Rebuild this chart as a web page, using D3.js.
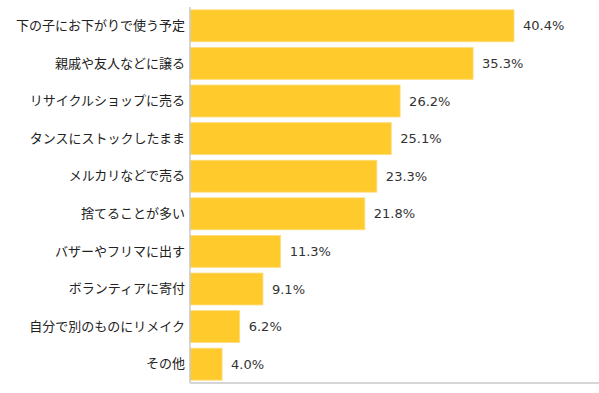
<!DOCTYPE html>
<html>
<head>
<meta charset="utf-8">
<script src="https://cdn.jsdelivr.net/npm/d3@7"></script>
<style>
  body { margin: 0; background: #fff; }
  svg text { font-family: "Noto Sans CJK JP", "Noto Sans", sans-serif; fill: #222; }
  .val { font-family: "DejaVu Sans", sans-serif; fill: #333; }
</style>
</head>
<body>
<svg id="chart" width="599" height="393"></svg>
<script>
const categories = [
  "下の子にお下がりで使う予定",
  "親戚や友人などに譲る",
  "リサイクルショップに売る",
  "タンスにストックしたまま",
  "メルカリなどで売る",
  "捨てることが多い",
  "バザーやフリマに出す",
  "ボランティアに寄付",
  "自分で別のものにリメイク",
  "その他"
]
const values = [40.4, 35.3, 26.2, 25.1, 23.3, 21.8, 11.3, 9.1, 6.2, 4.0]

const svg = d3.select('#chart')
const mLeft = 190, mRight = 591, mTop = 7, mBottom = 383

const x = d3.scaleLinear().domain([0, 50]).range([mLeft, mRight])
const y = d3.scaleBand()
            .domain(categories)
            .range([mTop, mBottom])
            .paddingInner(0.15)
            .paddingOuter(0.075)

// bars
svg.append('g')
    .selectAll('rect')
    .data(values)
    .enter().append('rect')
    .attr('x', x(0))
    .attr('y', (d, i) => y(categories[i]))
    .attr('width', d => x(d) - x(0))
    .attr('height', y.bandwidth())
    .attr('fill', '#FFCA2C')
    .attr('stroke', '#FFDD80')
    .attr('stroke-width', 0.8)

// value labels
svg.append('g')
    .selectAll('text')
    .data(values)
    .enter().append('text')
    .attr('class', 'val')
    .attr('x', d => x(d) + 9)
    .attr('y', (d, i) => y(categories[i]) + y.bandwidth() / 2)
    .attr('dy', '0.36em')
    .attr('font-size', 13)
    .text(d => d.toFixed(1) + '%')

// category labels
const yAxis = d3.axisLeft(y).tickSize(0).tickPadding(5)
const g = svg.append('g')
    .attr('transform', `translate(${mLeft},0)`)
    .call(yAxis)
g.select('.domain').remove()
g.selectAll('text')
    .attr('font-size', 13)
    .attr('font-family', '"Noto Sans CJK JP", sans-serif')
    .attr('fill', '#222')

// frame lines
svg.append('line')
    .attr('x1', mLeft).attr('x2', mLeft)
    .attr('y1', mTop).attr('y2', mBottom)
    .attr('stroke', '#c8c8c8').attr('stroke-width', 1.5)
svg.append('line')
    .attr('x1', mLeft).attr('x2', 599)
    .attr('y1', mBottom).attr('y2', mBottom)
    .attr('stroke', '#c8c8c8').attr('stroke-width', 1.5)
</script>
</body>
</html>
